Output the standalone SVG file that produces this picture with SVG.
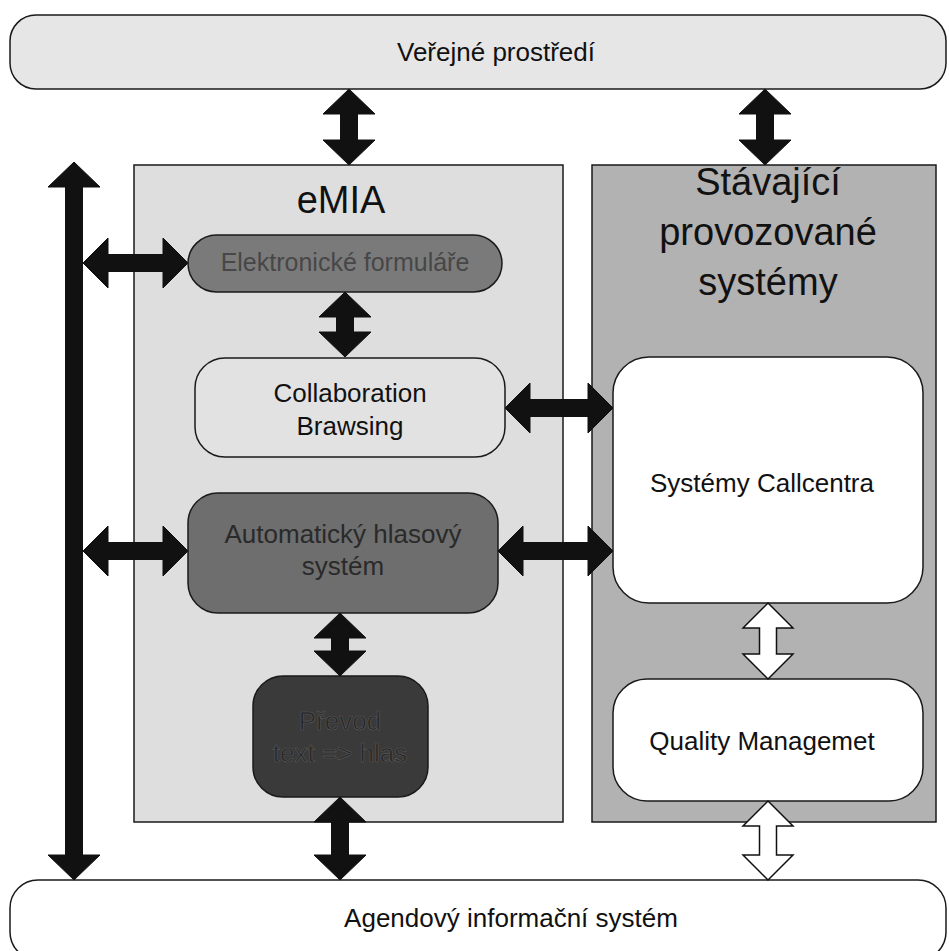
<svg xmlns="http://www.w3.org/2000/svg" width="949" height="951" viewBox="0 0 949 951">
<style>
text{font-family:"Liberation Sans",Arial,sans-serif;text-anchor:middle}
.box{stroke:#1a1a1a;stroke-width:1.5}
.t26{font-size:26px;fill:#111}
.big{font-size:38px;fill:#111}
.arr{fill:#111;stroke:#111;stroke-width:1}
.warr{fill:#fff;stroke:#111;stroke-width:1.5}
</style>
<rect width="949" height="951" fill="#fff"/>
<g id="verejne">
<rect class="box" x="10" y="15" width="936" height="74" rx="26" fill="#e6e6e6"/>
<text class="t26" x="496" y="61">Veřejné prostředí</text>
</g>
<g id="emia">
<rect class="box" x="134" y="165" width="429" height="657" fill="#dedede"/>
<text class="big" x="341" y="213">eMIA</text>
</g>
<g id="stavajici">
<rect class="box" x="592" y="165" width="344" height="657" fill="#b2b2b2"/>
<text class="big" x="768" y="195">Stávající</text>
<text class="big" x="768" y="245">provozované</text>
<text class="big" x="768" y="295">systémy</text>
</g>
<g id="elektronicke">
<rect class="box" x="188" y="235" width="314" height="57" rx="28.5" fill="#7a7a7a"/>
<text class="t26" x="345" y="271" style="fill:#474747;font-size:25px">Elektronické formuláře</text>
</g>
<g id="collaboration">
<rect class="box" x="195" y="358" width="310" height="99" rx="30" fill="#e2e2e2"/>
<text class="t26" x="350" y="402">Collaboration</text>
<text class="t26" x="350" y="435">Brawsing</text>
</g>
<g id="automaticky">
<rect class="box" x="188" y="493" width="310" height="120" rx="30" fill="#6e6e6e"/>
<text class="t26" x="343" y="543" style="fill:#2a2a2a">Automatický hlasový</text>
<text class="t26" x="343" y="575" style="fill:#2a2a2a">systém</text>
</g>
<g id="prevod">
<rect class="box" x="253" y="676" width="175" height="121" rx="30" fill="#3a3a3a"/>
<text class="t26" x="340" y="730" style="fill:#262626;stroke:#5a5a5a;stroke-width:0.6">Převod</text>
<text class="t26" x="340" y="762" style="fill:#262626;stroke:#5a5a5a;stroke-width:0.6">text =&gt; hlas</text>
</g>
<g id="callcentra">
<rect class="box" x="613" y="357" width="310" height="246" rx="36" fill="#fff"/>
<text class="t26" x="762" y="492">Systémy Callcentra</text>
</g>
<g id="quality">
<rect class="box" x="613" y="679" width="310" height="122" rx="34" fill="#fff"/>
<text class="t26" x="762" y="750">Quality Managemet</text>
</g>
<g id="agendovy">
<rect class="box" x="10" y="880" width="936" height="80" rx="28" fill="#fff"/>
<text class="t26" x="511" y="927">Agendový informační systém</text>
</g>
<g id="connectors">
<polygon class="arr" points="349,89 375,114 357.5,114 357.5,140 375,140 349,165 323,140 340.5,140 340.5,114 323,114"/>
<polygon class="arr" points="765,89 791,114 773.5,114 773.5,140 791,140 765,165 739,140 756.5,140 756.5,114 739,114"/>
<polygon class="arr" points="74,162 100,187 82.5,187 82.5,855 100,855 74,880 48,855 65.5,855 65.5,187 48,187"/>
<polygon class="arr" points="83,263 108,238 108,254.5 163,254.5 163,238 188,263 163,288 163,271.5 108,271.5 108,288"/>
<polygon class="arr" points="83,551 108,526 108,542.5 163,542.5 163,526 188,551 163,576 163,559.5 108,559.5 108,576"/>
<polygon class="arr" points="345,292 371,317 353.5,317 353.5,332 371,332 345,357 319,332 336.5,332 336.5,317 319,317"/>
<polygon class="arr" points="505,408 530,383 530,399.5 588,399.5 588,383 613,408 588,433 588,416.5 530,416.5 530,433"/>
<polygon class="arr" points="498,551 523,526 523,542.5 588,542.5 588,526 613,551 588,576 588,559.5 523,559.5 523,576"/>
<polygon class="arr" points="340,613 366,638 348.5,638 348.5,651 366,651 340,676 314,651 331.5,651 331.5,638 314,638"/>
<polygon class="arr" points="340,797 366,822 348.5,822 348.5,855 366,855 340,880 314,855 331.5,855 331.5,822 314,822"/>
<polygon class="warr" points="768,603 793,628 776.5,628 776.5,654 793,654 768,679 743,654 759.5,654 759.5,628 743,628"/>
<polygon class="warr" points="768,801 793,826 776.5,826 776.5,855 793,855 768,880 743,855 759.5,855 759.5,826 743,826"/>
</g>
</svg>
